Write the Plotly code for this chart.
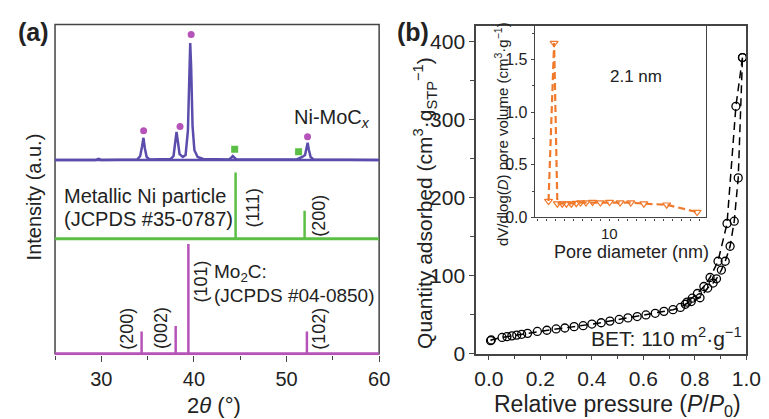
import plotly.graph_objects as go

W, H = 769, 419
FONT = "Liberation Sans, Arial, sans-serif"

# ---------------- Panel (a) data: XRD ----------------
xrd_2theta = [25.0, 29.4, 29.7, 30.0, 33.9, 34.2, 34.4, 34.55, 34.7, 34.9, 35.2, 37.5, 37.8, 38.0,
              38.12, 38.25, 38.45, 38.8, 39.1, 39.35, 39.5, 39.6, 39.7, 39.85, 40.05, 40.4, 41.0,
              43.8, 44.05, 44.2, 44.35, 44.6, 51.1, 51.4, 51.7, 52.0, 52.15, 52.28, 52.4, 52.6,
              52.9, 60.0]
xrd_intensity = [0, 0, 1, 0, 0.5, 4, 14, 22.7, 12, 3, 0.5, 1, 4, 18,
                 28.7, 20, 6, 3, 5, 30, 90, 120, 95, 35, 10, 3, 1,
                 0.5, 2.5, 4, 2.5, 0.5, 0.5, 1.5, 3, 5, 12, 17.7, 11, 3,
                 0.5, 0]
mo2c_marker_2theta = [34.57, 38.5, 39.7, 52.27]
mo2c_marker_int = [30, 34.3, 128.7, 23.7]
ni_marker_2theta = [44.4, 51.3]
ni_marker_int = [11, 8.3]

ni_ref_2theta = [44.5, 51.95]
ni_ref_int = [68, 28.7]
ni_ref_hkl = ["(111)", "(200)"]
mo2c_ref_2theta = [34.35, 38.03, 39.4, 52.2]
mo2c_ref_int = [22.7, 28.3, 112.7, 22.7]
mo2c_ref_hkl = ["(200)", "(002)", "(101)", "(102)"]

# ---------------- Panel (b) data: N2 isotherm ----------------
ads_p = [0.0065, 0.009, 0.051, 0.07, 0.089, 0.108, 0.127, 0.15, 0.188, 0.225, 0.261, 0.295, 0.331,
         0.366, 0.40, 0.436, 0.47, 0.506, 0.54, 0.576, 0.61, 0.646, 0.68, 0.715, 0.744, 0.763,
         0.786, 0.82, 0.85, 0.871, 0.884, 0.903, 0.918, 0.937, 0.953, 0.9685, 0.985]
ads_q = [16.7, 17.6, 20.8, 21.8, 22.8, 23.8, 24.8, 26.0, 28.5, 30.0, 31.7, 32.9, 34.6,
         35.8, 37.9, 39.6, 41.7, 43.8, 45.8, 47.5, 49.6, 51.7, 54.2, 56.3, 59.2, 63.3,
         66.7, 71.6, 84.0, 90.4, 95.8, 107.0, 118.3, 137.5, 169.6, 225.0, 379.0]
des_p = [0.985, 0.9595, 0.925, 0.89, 0.859, 0.835, 0.81, 0.79, 0.77]
des_q = [379.0, 316.6, 166.6, 118.3, 97.5, 86.0, 77.0, 71.0, 66.0]

# inset: pore size distribution
pore_d = [3.26, 3.88, 4.24, 4.78, 5.25, 5.79, 6.34, 6.82, 7.42, 8.15, 9.02, 10.03, 11.2,
          12.39, 13.84, 16.38, 19.75]
pore_v = [0.155, 1.657, 0.13, 0.13, 0.13, 0.13, 0.135, 0.14, 0.14, 0.145, 0.14, 0.145, 0.14,
          0.14, 0.13, 0.12, 0.05]

# ---------------- styling ----------------
PURPLE_CURVE = "#5a4dab"
MAGENTA = "#b553b8"
GREEN = "#5cbf45"
ORANGE = "#f07a2c"
FRAME = "#444444"

OFF_MO2C, OFF_NI, OFF_CURVE = 0, 118, 199
XA = [25, 60]


def px(x):
    return x / W


def py(y):
    return 1 - y / H


fig = go.Figure()

# --- panel a ---
fig.add_trace(go.Scatter(x=xrd_2theta, y=[v + OFF_CURVE for v in xrd_intensity], mode="lines",
                         line=dict(color=PURPLE_CURVE, width=2.5), xaxis="x", yaxis="y"))
fig.add_trace(go.Scatter(x=XA, y=[OFF_CURVE] * 2, mode="lines",
                         line=dict(color=PURPLE_CURVE, width=2.5), xaxis="x", yaxis="y"))
fig.add_trace(go.Scatter(x=mo2c_marker_2theta, y=[v + OFF_CURVE for v in mo2c_marker_int], mode="markers",
                         marker=dict(color=MAGENTA, size=7, symbol="circle"), xaxis="x", yaxis="y"))
fig.add_trace(go.Scatter(x=ni_marker_2theta, y=[v + OFF_CURVE for v in ni_marker_int], mode="markers",
                         marker=dict(color=GREEN, size=7, symbol="square"), xaxis="x", yaxis="y"))


def sticks(pos, ints, off):
    xs, ys = [], []
    for p, h in zip(pos, ints):
        xs += [p, p, None]
        ys += [off, off + h, None]
    return xs, ys


sx, sy = sticks(ni_ref_2theta, ni_ref_int, OFF_NI)
fig.add_trace(go.Scatter(x=sx, y=sy, mode="lines", line=dict(color=GREEN, width=2.5), xaxis="x", yaxis="y"))
fig.add_trace(go.Scatter(x=XA, y=[OFF_NI] * 2, mode="lines", line=dict(color=GREEN, width=3),
                         xaxis="x", yaxis="y"))
sx, sy = sticks(mo2c_ref_2theta, mo2c_ref_int, OFF_MO2C)
fig.add_trace(go.Scatter(x=sx, y=sy, mode="lines", line=dict(color=MAGENTA, width=2.5), xaxis="x", yaxis="y"))
fig.add_trace(go.Scatter(x=XA, y=[OFF_MO2C] * 2, mode="lines", line=dict(color=MAGENTA, width=3),
                         xaxis="x", yaxis="y"))

# --- panel b ---
iso_line = dict(color="black", width=1.5, dash="8px,5px")
iso_marker = dict(symbol="circle-open", size=8, color="black", line=dict(width=1.3))
fig.add_trace(go.Scatter(x=ads_p, y=ads_q, mode="lines+markers", line=iso_line, marker=iso_marker,
                         xaxis="x2", yaxis="y2"))
fig.add_trace(go.Scatter(x=des_p, y=des_q, mode="lines+markers", line=iso_line, marker=iso_marker,
                         xaxis="x2", yaxis="y2"))
fig.add_trace(go.Scatter(x=pore_d, y=pore_v, mode="lines+markers",
                         line=dict(color=ORANGE, width=2.2, dash="7px,4px"),
                         marker=dict(symbol="triangle-down-open", size=7, color=ORANGE, line=dict(width=1.2)),
                         xaxis="x3", yaxis="y3"))

tickfont = dict(family=FONT, size=20, color="#222")

layout = dict(
    width=W, height=H, margin=dict(l=0, r=0, t=0, b=0),
    paper_bgcolor="white", plot_bgcolor="rgba(0,0,0,0)", showlegend=False,
    font=dict(family=FONT, color="#222"),
    xaxis=dict(domain=[px(47), px(378)], range=XA, tickmode="array", tickvals=[30, 40, 50, 60],
               ticks="outside", ticklen=6, tickcolor=FRAME, showline=False, showgrid=False,
               zeroline=False, tickfont=tickfont, anchor="y",
               minor=dict(tickmode="array", tickvals=[25, 35, 45, 55], ticklen=4, ticks="outside",
                          tickcolor=FRAME)),
    yaxis=dict(domain=[py(356.5), py(17)], range=[-1.5, 338], showticklabels=False, ticks="",
               showline=False, showgrid=False, zeroline=False, anchor="x"),
    xaxis2=dict(domain=[px(477), px(753)], range=[-0.05, 1.0], tickmode="array",
                tickvals=[0, 0.2, 0.4, 0.6, 0.8, 1.0], ticktext=["0.0", "0.2", "0.4", "0.6", "0.8", "1.0"],
                ticks="outside", ticklen=5, tickcolor=FRAME, showline=True, linecolor=FRAME, linewidth=1.5,
                mirror=True, showgrid=False, zeroline=False, tickfont=dict(family=FONT, size=21, color="#222"),
                anchor="y2",
                minor=dict(tickmode="linear", tick0=0, dtick=0.1, ticklen=4, ticks="outside", tickcolor=FRAME)),
    yaxis2=dict(domain=[py(355), py(18)], range=[0, 420], tickmode="array", tickvals=[0, 100, 200, 300, 400],
                ticks="outside", ticklen=5, tickcolor=FRAME, showline=True, linecolor=FRAME, linewidth=1.5,
                mirror=True, showgrid=False, zeroline=False, tickfont=dict(family=FONT, size=21, color="#222"),
                anchor="x2",
                minor=dict(tickmode="linear", tick0=0, dtick=50, ticklen=4, ticks="outside", tickcolor=FRAME)),
    xaxis3=dict(domain=[px(537), px(712)], range=[1.74, 20.76], tickmode="array", tickvals=[10],
                ticks="outside", ticklen=2, tickcolor=FRAME, showline=True, linecolor=FRAME, linewidth=1.3,
                mirror=True, showgrid=False, zeroline=False, tickfont=dict(family=FONT, size=15, color="#222"),
                anchor="y3",
                minor=dict(tickmode="linear", tick0=0, dtick=1, ticklen=2, ticks="outside", tickcolor=FRAME)),
    yaxis3=dict(domain=[py(215), py(18)], range=[0, 1.824], tickmode="array", tickvals=[0, 0.5, 1.0, 1.5],
                ticktext=["0.0", "0.5", "1.0", "1.5"], ticks="outside", ticklen=3, tickcolor=FRAME,
                showline=True, linecolor=FRAME, linewidth=1.3, mirror=True, showgrid=False, zeroline=False,
                tickfont=dict(family=FONT, size=16, color="#222"), anchor="x3",
                minor=dict(tickmode="linear", tick0=0, dtick=0.25, ticklen=2, ticks="outside", tickcolor=FRAME)),
)
fig.update_layout(**layout)

# frame of panel a (bottom edge covered by the Mo2C baseline)
fig.add_shape(type="rect", xref="paper", yref="paper", x0=px(47), x1=px(378), y0=py(355), y1=py(17),
              line=dict(color=FRAME, width=1.5), layer="below")


def ann(text, x, y, size=20, angle=0, xanchor="center", yanchor="middle", bold=False, color="#222"):
    if bold:
        text = "<b>" + text + "</b>"
    fig.add_annotation(text=text, x=px(x), y=py(y), xref="paper", yref="paper", showarrow=False,
                       textangle=angle, xanchor=xanchor, yanchor=yanchor,
                       font=dict(family=FONT, size=size, color=color))


# panel labels
ann("(a)", 25, 25, size=25, bold=True)
ann("(b)", 413, 25, size=25, bold=True)

# panel a texts
ann("Intensity (a.u.)", 25, 194, size=20, angle=-90)
ann("2<i>θ</i> (°)", 209, 408, size=22)
ann("Ni-MoC<sub><i>x</i></sub>", 289, 113, size=20, xanchor="left")
ann("Metallic Ni particle", 54, 193, size=20, xanchor="left")
ann("(JCPDS #35-0787)", 54, 217, size=20, xanchor="left")
ann("Mo<sub>2</sub>C:", 207, 272, size=19, xanchor="left")
ann("(JCPDS #04-0850)", 207, 295, size=19, xanchor="left")
ann(ni_ref_hkl[0], 249, 205, size=18, angle=-90)
ann(ni_ref_hkl[1], 317, 213, size=18, angle=-90)
for lbl, xc, yc in zip(mo2c_ref_hkl, [121, 156, 196, 317], [329, 329, 281, 329]):
    ann(lbl, xc, yc, size=18, angle=-90)

# panel b texts
ann("Quantity adsorbed (cm<sup>3</sup>·g<sub>STP</sub><sup>−1</sup>)", 425, 200, size=21, angle=-90)
ann("Relative pressure (<i>P</i>/<i>P</i><sub>0</sub>)", 621, 408, size=23)
ann("BET: 110 m<sup>2</sup>·g<sup>−1</sup>", 751, 338, size=21, xanchor="right")
ann("dV/dlog(<i>D</i>) pore volume (cm<sup>3</sup>·g<sup>−1</sup>)", 503, 130, size=15, angle=-90)
ann("Pore diameter (nm)", 636, 251, size=18)
ann("2.1 nm", 640, 70, size=17)

fig.write_html("out.html")
